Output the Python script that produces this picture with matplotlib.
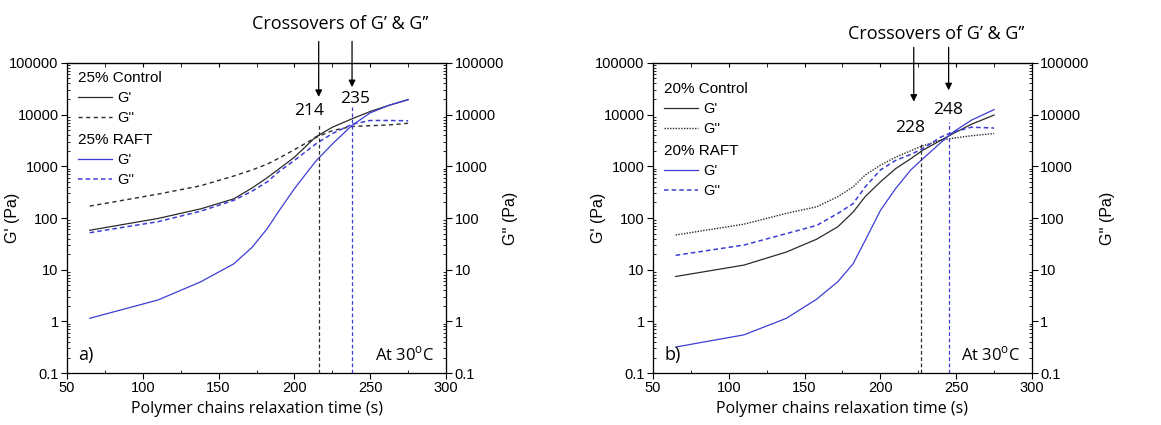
import numpy as np
import matplotlib
matplotlib.use("Agg")
import matplotlib.pyplot as plt
from matplotlib.ticker import LogLocator, FixedLocator, NullFormatter, FuncFormatter

plt.rcParams["font.family"] = ["Liberation Sans", "DejaVu Sans"]

# ---- panel a) 25 % gels ----
t_a = [65, 110, 138, 160, 172, 182, 190, 200, 214, 225, 238, 250, 262, 275]
ctrl_gp_a = [58, 98, 150, 235, 380, 600, 900, 1500, 3700, 5700, 8300, 11500, 15000, 19500]
ctrl_gpp_a = [170, 290, 420, 650, 850, 1100, 1450, 2100, 3600, 4900, 5900, 6100, 6300, 6800]
raft_gp_a = [1.15, 2.6, 5.8, 13, 27, 62, 140, 370, 1250, 2700, 6200, 10800, 15000, 19500]
raft_gpp_a = [52, 85, 135, 220, 330, 500, 800, 1300, 2700, 4300, 6500, 7700, 7700, 7600]

# ---- panel b) 20 % gels ----
t_b = [65, 110, 138, 158, 172, 182, 190, 200, 210, 220, 228, 240, 248, 260, 275]
ctrl_gp_b = [7.4, 12.3, 22, 39, 68, 130, 260, 500, 900, 1400, 2050, 3200, 4300, 6500, 9800]
ctrl_gpp_b = [47, 76, 123, 165, 260, 400, 680, 1050, 1500, 2000, 2500, 3200, 3500, 3900, 4300]
raft_gp_b = [0.32, 0.55, 1.15, 2.7, 5.9, 13, 37, 140, 370, 850, 1400, 2900, 4600, 7800, 12500]
raft_gpp_b = [19, 30, 50, 72, 123, 190, 400, 850, 1300, 1700, 2200, 3700, 4600, 5700, 5500]

# crossovers: line position, label, top of guide line, arrow x, arrow tip
cross_x_a = [216, 238]
cross_lbl_a = ["214", "235"]
cross_top_a = [6900, 14000]
arrow_x_a = [216, 238]
arrow_tip_a = [22000, 34000]
lbl_pos_a = [(210, 12000), (240, 20000)]

cross_x_b = [227, 245]
cross_lbl_b = ["228", "248"]
cross_top_b = [2900, 7300]
arrow_x_b = [222, 245]
arrow_tip_b = [17800, 29600]
lbl_pos_b = [(219.5, 5400), (244.7, 12300)]

BLACK = "#2b2b2b"
BLUE = "#3d3dd6"
ANNOT = ["Open Sans", "DejaVu Sans"]

fig = plt.figure(figsize=(11.61, 4.25), dpi=100)
ax_a = fig.add_axes([0.0577, 0.122, 0.3265, 0.730])
ax_b = fig.add_axes([0.5624, 0.122, 0.3265, 0.730])


def fmt(v, pos):
    return "0.1" if v < 1 else f"{int(round(v))}"


def setup_y(a):
    a.set_yscale("log")
    a.set_ylim(0.1, 100000)
    a.yaxis.set_major_locator(LogLocator(base=10, numticks=10))
    a.yaxis.set_minor_locator(LogLocator(base=10, subs=np.arange(2, 10), numticks=10))
    a.yaxis.set_major_formatter(FuncFormatter(fmt))
    a.yaxis.set_minor_formatter(NullFormatter())
    a.tick_params(which="major", direction="out", length=4, width=0.8, labelsize=10.5, pad=2)
    a.tick_params(which="minor", direction="in", length=2.5, width=0.6)


def panel(ax, t, cgp, cgpp, rgp, rgpp, ctrl_style, conc, letter,
          cx, clbl, ctop, ax_x, ax_tip, lpos, title_y, tail_y, leg_top, rlab_x):
    ax.plot(t, cgp, color=BLACK, lw=0.9)
    ax.plot(t, cgpp, color=BLACK, lw=1.0, ls=ctrl_style)
    ax.plot(t, rgp, color=BLUE, lw=0.9)
    ax.plot(t, rgpp, color=BLUE, lw=1.1, ls=(0, (3, 2)))
    ax.set_xlim(50, 300)
    setup_y(ax)
    ax.xaxis.set_major_locator(FixedLocator([50, 100, 150, 200, 250, 300]))
    ax.xaxis.set_minor_locator(FixedLocator([75, 125, 175, 225, 275]))
    for s in ax.spines.values():
        s.set_linewidth(0.9)
        s.set_color("#333333")

    sec = ax.secondary_xaxis("top")
    sec.xaxis.set_major_locator(FixedLocator([50, 100, 150, 200, 250, 300]))
    sec.xaxis.set_minor_locator(FixedLocator([75, 125, 175, 225, 275]))
    sec.tick_params(which="both", direction="in", length=3, labeltop=False)

    twin = ax.twinx()
    setup_y(twin)
    twin.set_ylabel("G'' (Pa)", fontsize=11.5)
    twin.yaxis.set_label_coords(rlab_x, 0.5)

    ax.set_xlabel("Polymer chains relaxation time (s)", fontsize=11.5,
                  family=ANNOT, labelpad=4)
    ax.set_ylabel("G' (Pa)", fontsize=11.5)
    ax.yaxis.set_label_coords(-0.125, 0.5)

    h = ax.get_lines()
    kw = dict(loc="upper left", frameon=False, fontsize=10.5, title_fontsize=11,
              handlelength=2.3, handletextpad=0.4, labelspacing=0.42,
              borderaxespad=0.0, borderpad=0.0)
    leg1 = ax.legend(h[:2], ["G'", "G''"], title=f"{conc}% Control",
                     bbox_to_anchor=(0.03, leg_top), **kw)
    leg1._legend_box.align = "left"
    ax.add_artist(leg1)
    leg2 = ax.legend(h[2:], ["G'", "G''"], title=f"{conc}% RAFT",
                     bbox_to_anchor=(0.03, leg_top - 0.2), **kw)
    leg2._legend_box.align = "left"

    for x, top, col in zip(cx, ctop, [BLACK, BLUE]):
        ax.plot([x, x], [0.1, top], color=col, lw=0.9, ls=(0, (3, 2)))
    for x, tip in zip(ax_x, ax_tip):
        ax.annotate("", xy=(x, tip), xytext=(x, tail_y), annotation_clip=False,
                    arrowprops=dict(arrowstyle="-|>", color="black", lw=0.9,
                                    mutation_scale=10, shrinkA=0, shrinkB=0))
    for (x, y), s in zip(lpos, clbl):
        ax.text(x, y, s, ha="center", va="center", fontsize=12.5, family=ANNOT)
    ax.text(np.mean(ax_x) + 3, title_y, "Crossovers of G\u2019 & G\u2019\u2019",
            ha="center", va="center", fontsize=13, family=ANNOT, clip_on=False)
    ax.text(0.03, 0.06, letter, transform=ax.transAxes, fontsize=13,
            family=ANNOT, ha="left", va="center")
    ax.text(0.97, 0.06, "At 30$^{\\mathregular{o}}$C", transform=ax.transAxes,
            fontsize=12, family=ANNOT, ha="right", va="center")


panel(ax_a, t_a, ctrl_gp_a, ctrl_gpp_a, raft_gp_a, raft_gpp_a, (0, (3, 2.5)), 25, "a)",
      cross_x_a, cross_lbl_a, cross_top_a, arrow_x_a, arrow_tip_a, lbl_pos_a,
      5.6e5, 2.6e5, 0.975, 1.15)
panel(ax_b, t_b, ctrl_gp_b, ctrl_gpp_b, raft_gp_b, raft_gpp_b, (0, (1, 1)), 20, "b)",
      cross_x_b, cross_lbl_b, cross_top_b, arrow_x_b, arrow_tip_b, lbl_pos_b,
      3.7e5, 2.0e5, 0.94, 1.18)

fig.savefig("out.png", dpi=100)
